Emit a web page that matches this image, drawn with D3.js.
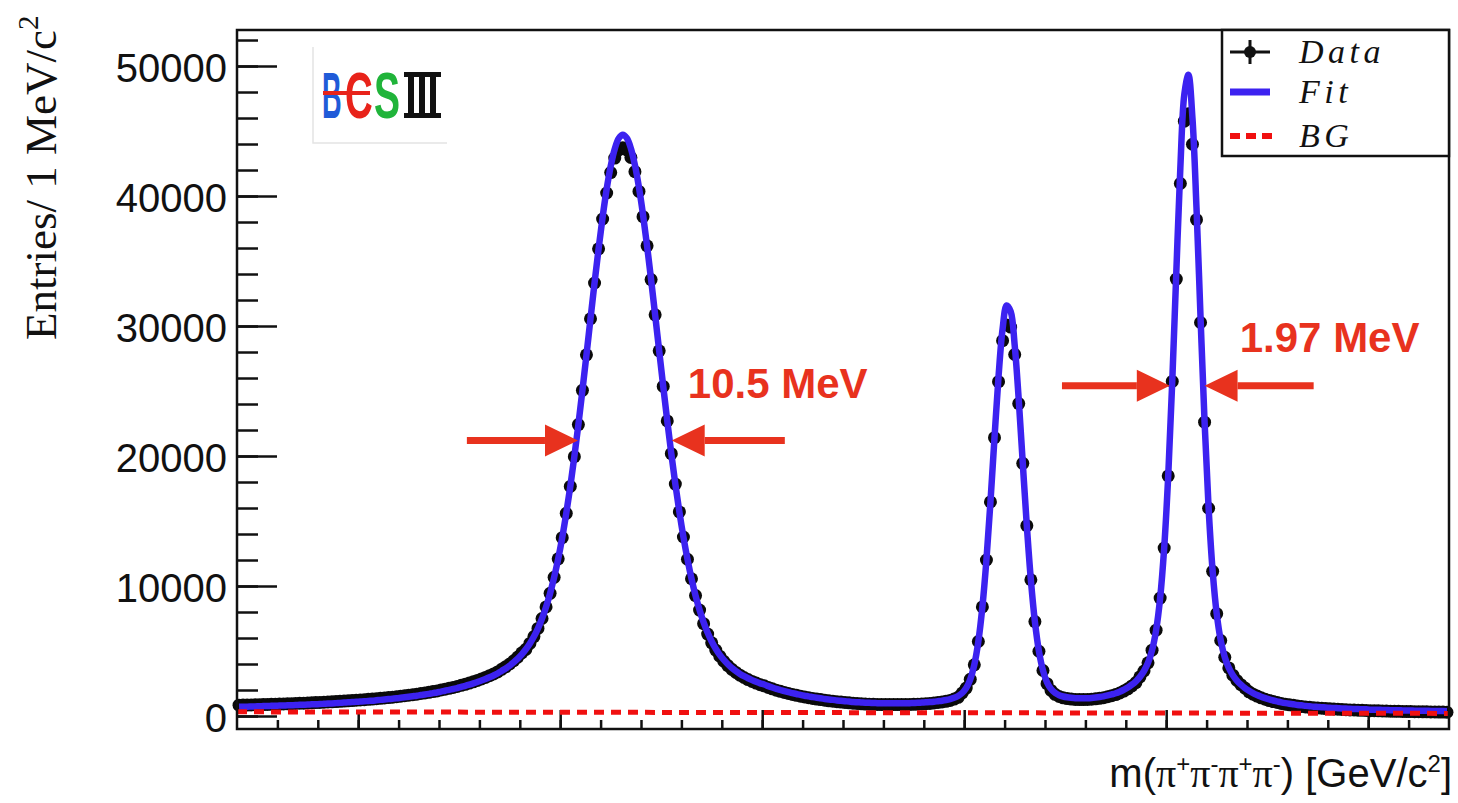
<!DOCTYPE html>
<html>
<head>
<meta charset="utf-8">
<script src="https://cdn.jsdelivr.net/npm/d3@7"></script>
<style>
  html, body { margin: 0; padding: 0; background: #fff; }
  svg { display: block; }
</style>
</head>
<body>
<svg id="chart" width="1458" height="803"></svg>
<script>
  // 1 MeV bins
  const massStart = 0.470;
  const binWidth = 0.001;

  const fitCounts = [
    710, 720, 720, 730, 740, 750, 760, 770, 780, 790,
    800, 810, 820, 830, 840, 860, 870, 880, 900, 910,
    920, 940, 960, 970, 990, 1010, 1030, 1050, 1070, 1090,
    1110, 1130, 1160, 1180, 1210, 1240, 1270, 1300, 1330, 1360,
    1400, 1440, 1480, 1520, 1560, 1610, 1650, 1700, 1760, 1810,
    1880, 1940, 2010, 2080, 2150, 2240, 2320, 2410, 2510, 2620,
    2730, 2850, 2980, 3120, 3270, 3470, 3660, 3880, 4130, 4410,
    4740, 5130, 5580, 6110, 6740, 7500, 8390, 9440, 10670, 12090,
    13720, 15590, 17660, 19950, 22420, 25050, 27780, 30560, 33310, 35940,
    38380, 40530, 42300, 43620, 44440, 44720, 44450, 43660, 42370, 40650,
    38560, 36170, 33570, 30860, 28090, 25350, 22700, 20180, 17840, 15700,
    13770, 12060, 10560, 9260, 8150, 7200, 6400, 5730, 5170, 4700,
    4310, 3980, 3690, 3450, 3240, 3060, 2900, 2760, 2630, 2510,
    2420, 2300, 2190, 2090, 2000, 1910, 1830, 1760, 1690, 1620,
    1560, 1510, 1450, 1400, 1360, 1310, 1270, 1240, 1200, 1170,
    1140, 1110, 1080, 1060, 1040, 1020, 1010, 1000, 990, 980,
    980, 980, 980, 980, 980, 980, 990, 1000, 1010, 1030,
    1050, 1070, 1100, 1140, 1180, 1230, 1300, 1400, 1540, 1770,
    2150, 2820, 3940, 5730, 8390, 12000, 16470, 21410, 26120, 29770,
    31580, 31120, 28510, 24330, 19440, 14640, 10480, 7260, 4980, 3500,
    2590, 2070, 1770, 1600, 1500, 1440, 1400, 1370, 1360, 1360,
    1370, 1390, 1420, 1460, 1510, 1580, 1660, 1750, 1870, 2020,
    2190, 2410, 2670, 3010, 3460, 4090, 5060, 6600, 9070, 12920,
    18470, 25740, 34110, 42160, 47860, 49320, 45980, 39080, 30670, 22600,
    15980, 11130, 7870, 5810, 4520, 3700, 3140, 2730, 2410, 2150,
    1940, 1760, 1610, 1480, 1370, 1270, 1190, 1120, 1050, 990,
    940, 900, 850, 820, 780, 750, 720, 700, 680, 650,
    630, 620, 600, 580, 570, 550, 540, 530, 520, 510,
    490, 490, 480, 470, 460, 450, 440, 440, 430, 420,
    420, 410, 410, 400, 400, 390, 390, 380, 380, 370
  ];

  const dataCounts = [
    830, 840, 840, 850, 860, 870, 880, 890, 900, 910,
    920, 930, 940, 950, 960, 980, 990, 1000, 1020, 1030,
    1040, 1060, 1080, 1090, 1110, 1130, 1150, 1170, 1190, 1210,
    1230, 1250, 1280, 1300, 1330, 1360, 1390, 1420, 1450, 1480,
    1520, 1560, 1600, 1640, 1680, 1730, 1770, 1820, 1880, 1930,
    2000, 2060, 2130, 2200, 2270, 2360, 2440, 2530, 2630, 2740,
    2850, 2970, 3100, 3240, 3390, 3590, 3780, 4000, 4250, 4530,
    4860, 5130, 5580, 6110, 6740, 7500, 8390, 9440, 10670, 12090,
    13720, 15590, 17660, 19950, 22420, 25050, 27780, 30560, 33310, 35940,
    38230, 40230, 41800, 42920, 43540, 43720, 43550, 42960, 41870, 40350,
    38410, 36170, 33570, 30860, 28090, 25350, 22700, 20180, 17840, 15700,
    13770, 12060, 10560, 9260, 8150, 7100, 6300, 5630, 5070, 4600,
    4210, 3880, 3590, 3350, 3140, 2960, 2800, 2660, 2530, 2410,
    2320, 2200, 2090, 1990, 1900, 1810, 1730, 1660, 1590, 1520,
    1460, 1410, 1350, 1300, 1260, 1210, 1170, 1140, 1100, 1070,
    1040, 1010, 980, 960, 940, 920, 910, 900, 890, 880,
    880, 880, 880, 880, 880, 880, 890, 900, 910, 930,
    950, 970, 1000, 1040, 1080, 1130, 1200, 1300, 1440, 1770,
    2150, 2820, 3940, 5730, 8390, 12000, 16470, 21410, 25720, 28870,
    30080, 29920, 27810, 24030, 19440, 14640, 10480, 7260, 4980, 3500,
    2490, 1970, 1670, 1500, 1400, 1340, 1300, 1270, 1260, 1260,
    1270, 1290, 1320, 1360, 1410, 1480, 1560, 1650, 1770, 1920,
    2090, 2310, 2570, 3010, 3460, 4090, 5060, 6600, 9070, 12920,
    18470, 25740, 33610, 40960, 45760, 46320, 43980, 38180, 30270, 22600,
    15980, 11130, 7870, 5810, 4520, 3700, 3140, 2730, 2410, 2150,
    1860, 1680, 1530, 1400, 1290, 1190, 1110, 1040, 970, 910,
    860, 820, 770, 740, 700, 670, 640, 620, 600, 570,
    550, 540, 520, 500, 490, 470, 460, 450, 440, 430,
    410, 410, 400, 390, 380, 370, 360, 360, 350, 340,
    340, 330, 330, 320, 320, 310, 310, 300, 300, 290
  ];

  const bgMass = [0.470, 0.770];
  const bgCounts = [320, 200];

  const yTickValues = [0, 10000, 20000, 30000, 40000, 50000];
  const xMajorTicks = [0.50, 0.55, 0.60, 0.65, 0.70, 0.75];
  const legendLabels = ["Data", "Fit", "BG"];

  // width annotations: label text, label anchor, arrow level and arrow ends
  const widthLabels = ["10.5 MeV", "1.97 MeV"];
  const widthLabelMass = [0.5816, 0.7182];
  const widthLabelCounts = [24500, 28000];
  const arrowCounts = [21200, 25400];
  const arrowFrom = [[0.5269, 0.6056], [0.6742, 0.7365]];
  const arrowTo = [[0.5544, 0.5776], [0.7009, 0.7095]];

  const frame = { left: 237, right: 1449, top: 30, bottom: 729 };
  const fitColor = "#3c22f0";
  const red = "#e8321e";

  const svg = d3.select("#chart");
  svg.append("rect").attr("width", 1458).attr("height", 803).attr("fill", "#fff");

  const x = d3.scaleLinear().domain([0.470, 0.770]).range([frame.left, frame.right]);
  const y = d3.scaleLinear().domain([-1000, 52770]).range([frame.bottom, frame.top]);
  const binCenter = i => massStart + (i + 0.5) * binWidth;

  svg.append("clipPath").attr("id", "plot-clip")
    .append("rect")
    .attr("x", frame.left).attr("y", frame.top)
    .attr("width", frame.right - frame.left).attr("height", frame.bottom - frame.top);

  // y axis: ticks point into the frame
  const yMinor = svg.append("g")
    .attr("transform", `translate(${frame.left},0)`)
    .call(d3.axisLeft(y).tickValues(d3.range(0, 52001, 2000)).tickSizeInner(-21).tickSizeOuter(0).tickFormat(""));
  const yMajor = svg.append("g")
    .attr("transform", `translate(${frame.left},0)`)
    .call(d3.axisLeft(y).tickValues(yTickValues).tickSizeInner(-40).tickSizeOuter(0).tickPadding(10).tickFormat(d3.format("d")));

  // x axis: no labels visible in the picture
  const xMinor = svg.append("g")
    .attr("transform", `translate(0,${frame.bottom})`)
    .call(d3.axisBottom(x).tickValues(d3.range(1, 30).map(k => 0.47 + k * 0.01)).tickSizeInner(-9).tickSizeOuter(0).tickFormat(""));
  const xMajor = svg.append("g")
    .attr("transform", `translate(0,${frame.bottom})`)
    .call(d3.axisBottom(x).tickValues(xMajorTicks).tickSizeInner(-19).tickSizeOuter(0).tickFormat(""));

  [yMinor, yMajor, xMinor, xMajor].forEach(g => {
    g.select(".domain").remove();
    g.selectAll(".tick line").attr("stroke", "#111").attr("stroke-width", 2.5);
  });
  yMajor.selectAll(".tick text")
    .attr("dy", null).attr("y", 15)
    .style("font-family", "'Liberation Sans', Arial, sans-serif")
    .style("font-size", "40px")
    .attr("fill", "#111");

  // data points
  svg.append("g").attr("class", "data")
    .selectAll("circle")
    .data(dataCounts)
    .join("circle")
    .attr("cx", (d, i) => x(binCenter(i)))
    .attr("cy", d => y(d))
    .attr("r", 6.5)
    .attr("fill", "#0a0a0a");

  // fit curve
  const fitLine = d3.line()
    .x((d, i) => x(binCenter(i)))
    .y(d => y(d))
    .curve(d3.curveCatmullRom);

  svg.append("path")
    .datum(fitCounts)
    .attr("clip-path", "url(#plot-clip)")
    .attr("d", fitLine)
    .attr("fill", "none")
    .attr("stroke", fitColor)
    .attr("stroke-width", 6.5)
    .attr("stroke-linejoin", "round");

  // background
  svg.append("path")
    .datum(bgMass.map((m, i) => [m, bgCounts[i]]))
    .attr("d", d3.line().x(d => x(d[0])).y(d => y(d[1])))
    .attr("fill", "none")
    .attr("stroke", "#f01010")
    .attr("stroke-width", 5)
    .attr("stroke-dasharray", "10,7");

  // frame
  svg.append("rect")
    .attr("x", frame.left).attr("y", frame.top)
    .attr("width", frame.right - frame.left).attr("height", frame.bottom - frame.top)
    .attr("fill", "none").attr("stroke", "#111").attr("stroke-width", 2.5);

  // width annotations
  const ann = svg.append("g").attr("class", "annotations");
  arrowCounts.forEach((level, k) => {
    const yy = y(level);
    arrowFrom[k].forEach((m, j) => {
      const x0 = x(m), x1 = x(arrowTo[k][j]);
      const dir = Math.sign(x1 - x0);
      const headBase = x1 - dir * 33;
      ann.append("line")
        .attr("x1", x0).attr("x2", headBase).attr("y1", yy).attr("y2", yy)
        .attr("stroke", red).attr("stroke-width", 7);
      ann.append("path")
        .attr("d", `M${x1},${yy} L${headBase},${yy - 16} L${headBase},${yy + 16} Z`)
        .attr("fill", red);
    });
  });
  ann.selectAll("text.width")
    .data(widthLabels)
    .join("text")
    .attr("class", "width")
    .attr("x", (d, i) => x(widthLabelMass[i]))
    .attr("y", (d, i) => y(widthLabelCounts[i]))
    .style("font-family", "'Liberation Sans', Arial, sans-serif")
    .style("font-size", "42px")
    .style("font-weight", "bold")
    .attr("fill", red)
    .text(d => d);

  // legend
  const legend = svg.append("g").attr("class", "legend");
  legend.append("rect")
    .attr("x", 1222).attr("y", 30).attr("width", 227).attr("height", 126)
    .attr("fill", "#fff").attr("stroke", "#111").attr("stroke-width", 2.5);
  const rowY = [52, 92, 136];
  legend.append("line").attr("x1", 1230).attr("x2", 1270).attr("y1", rowY[0]).attr("y2", rowY[0])
    .attr("stroke", "#111").attr("stroke-width", 3);
  legend.append("line").attr("x1", 1250).attr("x2", 1250).attr("y1", rowY[0] - 12).attr("y2", rowY[0] + 12)
    .attr("stroke", "#111").attr("stroke-width", 3);
  legend.append("circle").attr("cx", 1250).attr("cy", rowY[0]).attr("r", 6).attr("fill", "#111");
  legend.append("line").attr("x1", 1230).attr("x2", 1270).attr("y1", rowY[1]).attr("y2", rowY[1])
    .attr("stroke", fitColor).attr("stroke-width", 7);
  legend.append("line").attr("x1", 1230).attr("x2", 1272).attr("y1", rowY[2]).attr("y2", rowY[2])
    .attr("stroke", "#f01010").attr("stroke-width", 6).attr("stroke-dasharray", "10,6");
  legend.selectAll("text")
    .data(legendLabels)
    .join("text")
    .attr("x", 1299)
    .attr("y", (d, i) => rowY[i] + 11)
    .style("font-family", "'Liberation Serif', 'Times New Roman', serif")
    .style("font-style", "italic")
    .style("font-size", "34px")
    .style("letter-spacing", "4.5px")
    .attr("fill", "#111")
    .text(d => d);

  // BESIII logo: small letters stretched tall, one text per letter
  const logo = svg.append("g").attr("class", "logo");
  logo.append("path").attr("d", "M313,47 V143 H447")
    .attr("fill", "none").attr("stroke", "#e4e4e4").attr("stroke-width", 1.5);
  [["B", 322, 0.85, "#1f5bd8"], ["C", 345, 1.2, "#e8231a"], ["S", 374, 1.22, "#20b43a"]].forEach(([ch, lx, sx, c]) => {
    logo.append("text")
      .attr("transform", `translate(${lx},118) scale(${sx},2)`)
      .style("font-family", "'Liberation Sans', Arial, sans-serif")
      .style("font-size", "32px").style("font-weight", "bold")
      .attr("fill", c).text(ch);
  });
  logo.append("rect").attr("x", 323).attr("y", 91).attr("width", 47).attr("height", 4).attr("fill", "#e8231a");
  logo.append("rect").attr("x", 404).attr("y", 72).attr("width", 37).attr("height", 5).attr("fill", "#111");
  logo.append("rect").attr("x", 404).attr("y", 113).attr("width", 37).attr("height", 5).attr("fill", "#111");
  [408, 419, 430].forEach(bx => {
    logo.append("rect").attr("x", bx).attr("y", 72).attr("width", 6).attr("height", 46).attr("fill", "#111");
  });

  // axis titles
  const yTitle = svg.append("text")
    .attr("transform", "translate(56,340) rotate(-90)")
    .style("font-family", "'Liberation Serif', 'Times New Roman', serif")
    .style("font-size", "45px")
    .attr("fill", "#111");
  yTitle.append("tspan").text("Entries/ 1 MeV/c");
  yTitle.append("tspan").attr("dy", -18).style("font-size", "29px").text("2");

  // superscripts: raise with dy, the next normal piece lowers again
  const xTitleParts = [
    ["m(", 0, null], ["π", 0, "serif"], ["+", -15, "sup"],
    ["π", 15, "serif"], ["-", -15, "sup"],
    ["π", 15, "serif"], ["+", -15, "sup"],
    ["π", 15, "serif"], ["-", -15, "sup"],
    [") [GeV/c", 15, null], ["2", -15, "sup"], ["]", 15, null]
  ];
  const xTitle = svg.append("text")
    .attr("x", 1452).attr("y", 787)
    .attr("text-anchor", "end")
    .style("font-family", "'Liberation Sans', Arial, sans-serif")
    .style("font-size", "40px")
    .attr("fill", "#111");
  xTitleParts.forEach(([txt, dy, kind]) => {
    const t = xTitle.append("tspan").text(txt);
    if (dy) t.attr("dy", dy);
    if (kind === "serif") t.style("font-family", "'Liberation Serif', 'Times New Roman', serif");
    if (kind === "sup") t.style("font-size", "24px");
  });
</script>
</body>
</html>
